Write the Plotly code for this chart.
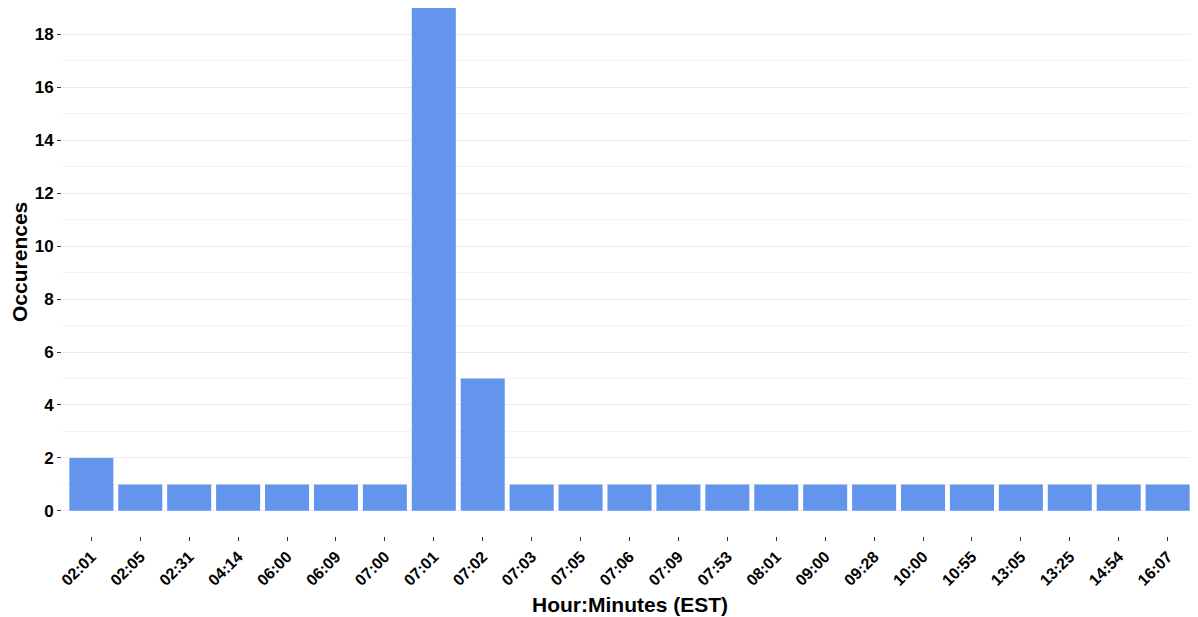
import plotly.graph_objects as go

times = ["02:01", "02:05", "02:31", "04:14", "06:00", "06:09", "07:00", "07:01",
         "07:02", "07:03", "07:05", "07:06", "07:09", "07:53", "08:01", "09:00",
         "09:28", "10:00", "10:55", "13:05", "13:25", "14:54", "16:07"]
counts = [2, 1, 1, 1, 1, 1, 1, 19, 5, 1, 1, 1, 1, 1, 1, 1, 1, 1, 1, 1, 1, 1, 1]
y_ticks = [0, 2, 4, 6, 8, 10, 12, 14, 16, 18]

fig = go.Figure(go.Bar(
    x=list(range(len(times))), y=counts,
    marker=dict(color="#6495ED", line=dict(width=0)),
    width=0.9,
))

font = "Liberation Sans, Arial, sans-serif"
fig.update_layout(
    width=1190, height=609,
    margin=dict(l=54, r=1, t=0, b=81, autoexpand=False),
    plot_bgcolor="white", paper_bgcolor="white",
    showlegend=False,
    font=dict(family=font, color="black"),
    xaxis=dict(
        range=[-0.6, len(times) - 0.4], automargin=False,
        tickmode="array", tickvals=list(range(len(times))), ticktext=times,
        tickangle=-45, showgrid=False, zeroline=False,
        ticks="outside", ticklen=4, tickcolor="#333333", tickwidth=1,
        tickfont=dict(size=16, family=font, color="black", weight="bold"),
    ),
    yaxis=dict(
        range=[-0.95, 19.0], automargin=False,
        tickmode="array", tickvals=y_ticks,
        showgrid=True, gridcolor="#ebebeb", gridwidth=1.2, zeroline=False,
        minor=dict(tickmode="array", tickvals=[1, 3, 5, 7, 9, 11, 13, 15, 17, 19],
                   showgrid=True, gridcolor="#f3f3f3", gridwidth=1, ticks=""),
        ticks="outside", ticklen=4, tickcolor="#333333", tickwidth=1,
        tickfont=dict(size=17, family=font, color="black", weight="bold"),
    ),
    annotations=[
        dict(text="<b>Hour:Minutes (EST)</b>", xref="paper", yref="paper",
             x=0.5, y=-0.1288, xanchor="center", yanchor="middle", showarrow=False,
             font=dict(size=21, family=font, color="black")),
        dict(text="<b>Occurences</b>", xref="paper", yref="paper",
             x=-0.0370, y=0.519, xanchor="center", yanchor="middle", showarrow=False,
             textangle=-90, borderpad=0, font=dict(size=21, family=font, color="black")),
    ],
)
fig.write_html("out.html")
